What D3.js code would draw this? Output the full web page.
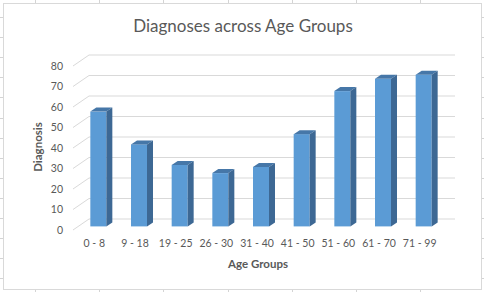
<!DOCTYPE html>
<html><head><meta charset="utf-8">
<script src="https://cdn.jsdelivr.net/npm/d3@7"></script>
<style>html,body{margin:0;padding:0;background:#fff;}svg{display:block;}</style>
</head><body>
<svg id="c" width="484" height="292"></svg>
<script>
const categories = ["0 - 8","9 - 18","19 - 25","26 - 30","31 - 40","41 - 50","51 - 60","61 - 70","71 - 99"];
const diagnoses = [56, 40, 30, 26, 29, 45, 66, 72, 74];
const yTicks = [0,10,20,30,40,50,60,70,80];
const titleText = "Diagnoses across Age Groups";
const xTitle = "Age Groups";
const yTitle = "Diagnosis";

const svg = d3.select("#c");
const font = "Lato, 'Open Sans', sans-serif";

// spreadsheet background grid
const g0 = svg.append("g");
[35,99,163,228,292,356,420].forEach(x=>g0.append("line").attr("x1",x+0.5).attr("x2",x+0.5).attr("y1",0).attr("y2",292).attr("stroke","#d4d4d4"));
d3.range(17,292,20.1).forEach(y=>g0.append("line").attr("x1",0).attr("x2",484).attr("y1",Math.round(y)+0.5).attr("y2",Math.round(y)+0.5).attr("stroke","#d4d4d4"));
svg.append("rect").attr("x",3.5).attr("y",3.5).attr("width",478).attr("height",286).attr("fill","#fff").attr("stroke","#d9d9d9");

// 3D geometry
const depth = {x:16, y:-11};
const y = d3.scaleLinear().domain([0,80]).range([230,66]);
const x = d3.scaleBand().domain(categories).range([73,439]);
const barW = 16, fOff = {x:5, y:-3.6}, bDepth = {x:6, y:-4};

// gridlines (left wall diagonal + back wall)
const grid = svg.append("g").attr("fill","none").attr("stroke","#d9d9d9").attr("stroke-width",1);
yTicks.forEach(v=>{
  const yy = y(v);
  grid.append("path").attr("d",`M73,${yy}L${73+depth.x},${yy+depth.y}L455,${yy+depth.y}`);
});

// y tick labels
svg.append("g").selectAll("text").data(yTicks).join("text")
  .attr("x",63).attr("y",d=>y(d)).attr("dy","0.35em").attr("text-anchor","end")
  .attr("font-family",font).attr("font-size",10.5).attr("fill","#595959").text(d=>d);

// bars
const bars = svg.append("g").selectAll("g").data(categories.map((c,i)=>({c,v:diagnoses[i]}))).join("g");
bars.each(function(d){
  const g = d3.select(this);
  const x0 = x(d.c) + x.bandwidth()/2 + fOff.x - barW/2;
  const yt = y(d.v) + fOff.y, yb = y(0) + fOff.y;
  g.append("rect").attr("x",x0).attr("y",yt).attr("width",barW).attr("height",yb-yt).attr("fill","#5b9bd5");
  g.append("path").attr("d",`M${x0},${yt}L${x0+barW},${yt}L${x0+barW+bDepth.x},${yt+bDepth.y}L${x0+bDepth.x},${yt+bDepth.y}Z`).attr("fill","#4677a8");
  g.append("path").attr("d",`M${x0+barW},${yt}L${x0+barW+bDepth.x},${yt+bDepth.y}L${x0+barW+bDepth.x},${yb+bDepth.y}L${x0+barW},${yb}Z`).attr("fill","#3d6894");
});

// category labels
svg.append("g").selectAll("text").data(categories).join("text")
  .attr("x",d=>x(d)+x.bandwidth()/2+1).attr("y",247).attr("text-anchor","middle")
  .attr("font-family",font).attr("font-size",10.5).attr("fill","#595959").text(d=>d);

// titles
svg.append("text").attr("x",243).attr("y",31.5).attr("text-anchor","middle")
  .attr("font-family",font).attr("font-size",17).attr("fill","#595959").text(titleText);
svg.append("text").attr("x",258).attr("y",268).attr("text-anchor","middle")
  .attr("font-family",font).attr("font-size",11.5).attr("font-weight","bold").attr("fill","#595959").text(xTitle);
svg.append("text").attr("transform","translate(42,147) rotate(-90)").attr("text-anchor","middle")
  .attr("font-family",font).attr("font-size",11.5).attr("font-weight","bold").attr("fill","#595959").text(yTitle);
</script>
</body></html>
